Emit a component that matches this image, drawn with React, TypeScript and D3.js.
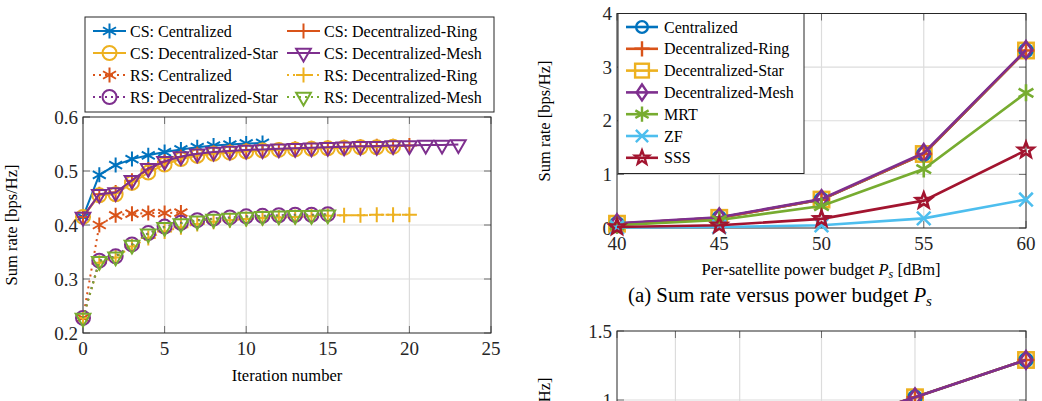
import * as d3 from "d3";
import { useEffect, useRef } from "react";

// ---- left chart: convergence vs iteration ----
const iterTicks = [0, 5, 10, 15, 20, 25];
const leftRateTicks = [0.2, 0.3, 0.4, 0.5, 0.6];

const csCentralized = [0.415, 0.493, 0.511, 0.522, 0.529, 0.535, 0.54, 0.544, 0.547, 0.549, 0.551, 0.552];
const csRing = [0.415, 0.457, 0.46, 0.482, 0.503, 0.517, 0.526, 0.531, 0.534, 0.536, 0.538, 0.539, 0.54, 0.541, 0.542, 0.543, 0.544, 0.545, 0.546, 0.546, 0.547];
const csStar = [0.415, 0.455, 0.457, 0.478, 0.497, 0.512, 0.522, 0.528, 0.532, 0.534, 0.536, 0.538, 0.539, 0.54, 0.541, 0.542, 0.543, 0.544, 0.544, 0.545];
const csMesh = [0.415, 0.457, 0.46, 0.483, 0.505, 0.518, 0.527, 0.532, 0.535, 0.537, 0.539, 0.54, 0.541, 0.542, 0.543, 0.544, 0.545, 0.546, 0.546, 0.547, 0.547, 0.548, 0.548, 0.549];
const rsCentralized = [0.228, 0.4, 0.418, 0.421, 0.422, 0.422, 0.423];
const rsRing = [0.228, 0.33, 0.34, 0.36, 0.376, 0.388, 0.396, 0.402, 0.406, 0.409, 0.411, 0.413, 0.414, 0.415, 0.416, 0.417, 0.418, 0.418, 0.419, 0.419, 0.419];
const rsStar = [0.228, 0.334, 0.342, 0.364, 0.385, 0.397, 0.404, 0.409, 0.412, 0.414, 0.416, 0.417, 0.418, 0.419, 0.419, 0.42];
const rsMesh = [0.228, 0.333, 0.341, 0.363, 0.384, 0.396, 0.403, 0.408, 0.411, 0.413, 0.415, 0.416, 0.417, 0.418, 0.418, 0.419];

// ---- right top chart: sum rate vs power budget ----
const powerBudget = [40, 45, 50, 55, 60];
const topRateTicks = [0, 1, 2, 3, 4];
const prCentralized = [0.08, 0.19, 0.53, 1.38, 3.31];
const prRing = [0.08, 0.19, 0.53, 1.38, 3.31];
const prStar = [0.08, 0.19, 0.53, 1.38, 3.31];
const prMesh = [0.09, 0.2, 0.54, 1.4, 3.32];
const prMRT = [0.05, 0.15, 0.41, 1.1, 2.52];
const prZF = [0.01, 0.02, 0.05, 0.18, 0.53];
const prSSS = [0.02, 0.05, 0.17, 0.51, 1.45];

// ---- right bottom chart (cut off by the page) ----
const bottomXTicks = [10, 20, 31, 45, 61, 80];
const bottomRateTicks = [0, 0.5, 1, 1.5];
const bottomX = [45, 61, 80];
const bCentralized = [0.8, 1.02, 1.29];
const bRing = [0.8, 1.02, 1.29];
const bStar = [0.8, 1.02, 1.29];
const bMesh = [0.8, 1.02, 1.29];

const C = {
  blue: "#0072BD",
  red: "#D95319",
  yellow: "#EDB120",
  purple: "#7E2F8E",
  green: "#77AC30",
  cyan: "#4DBEEE",
  dark: "#A2142F",
};
const FONT = "'Liberation Serif', 'Times New Roman', serif";
const AX = "#262626";

type Marker = "asterisk" | "plus" | "circle" | "triangle" | "square" | "diamond" | "cross" | "star";

function drawMarker(g: any, m: Marker, x: number, y: number, s: number, color: string, sw: number) {
  const st = (sel: any) => sel.attr("fill", "none").attr("stroke", color).attr("stroke-width", sw);
  if (m === "circle") {
    st(g.append("circle").attr("cx", x).attr("cy", y).attr("r", s));
  } else if (m === "plus") {
    st(g.append("path").attr("d", `M${x - s},${y}H${x + s}M${x},${y - s}V${y + s}`));
  } else if (m === "cross") {
    const k = s * 0.8;
    st(g.append("path").attr("d", `M${x - k},${y - k}L${x + k},${y + k}M${x - k},${y + k}L${x + k},${y - k}`));
  } else if (m === "asterisk") {
    let d = "";
    [90, 30, 150].forEach((a) => {
      const r = (a * Math.PI) / 180;
      const dx = s * Math.cos(r), dy = s * Math.sin(r);
      d += `M${x - dx},${y - dy}L${x + dx},${y + dy}`;
    });
    st(g.append("path").attr("d", d));
  } else if (m === "triangle") {
    st(g.append("path").attr("d", `M${x - s * 0.866},${y - s * 0.5}L${x + s * 0.866},${y - s * 0.5}L${x},${y + s}Z`)).attr("stroke-linejoin", "miter");
  } else if (m === "square") {
    const k = s * 0.85;
    st(g.append("rect").attr("x", x - k).attr("y", y - k).attr("width", 2 * k).attr("height", 2 * k));
  } else if (m === "diamond") {
    st(g.append("path").attr("d", `M${x},${y - s * 1.1}L${x + s * 0.75},${y}L${x},${y + s * 1.1}L${x - s * 0.75},${y}Z`));
  } else if (m === "star") {
    const pts: string[] = [];
    for (let i = 0; i < 10; i++) {
      const r = i % 2 === 0 ? s * 0.95 : s * 0.4;
      const a = -Math.PI / 2 + (i * Math.PI) / 5;
      pts.push(`${x + r * Math.cos(a)},${y + r * Math.sin(a)}`);
    }
    st(g.append("path").attr("d", `M${pts.join("L")}Z`)).attr("stroke-linejoin", "miter");
  }
}

function drawAxes(svg: any, x: any, y: any, xTicks: number[], yTicks: number[], xFmt: any, yFmt: any, xLabels: boolean) {
  const [x0, x1] = x.range();
  const [y0, y1] = y.range(); // y0 bottom, y1 top
  const g = svg.append("g");
  xTicks.filter((t) => t !== x.domain()[0] && t !== x.domain()[1]).forEach((t) => {
    g.append("line").attr("x1", x(t)).attr("x2", x(t)).attr("y1", y0).attr("y2", y1).attr("stroke", "#dcdcdc").attr("stroke-width", 1.2);
  });
  yTicks.filter((t) => t !== y.domain()[0] && t !== y.domain()[1]).forEach((t) => {
    g.append("line").attr("x1", x0).attr("x2", x1).attr("y1", y(t)).attr("y2", y(t)).attr("stroke", "#dcdcdc").attr("stroke-width", 1.2);
  });
  const tl = 7;
  xTicks.forEach((t) => {
    g.append("path").attr("d", `M${x(t)},${y0}V${y0 - tl}M${x(t)},${y1}V${y1 + tl}`).attr("stroke", "#6e6e6e").attr("stroke-width", 1);
  });
  yTicks.forEach((t) => {
    g.append("path").attr("d", `M${x0},${y(t)}H${x0 + tl}M${x1},${y(t)}H${x1 - tl}`).attr("stroke", "#6e6e6e").attr("stroke-width", 1);
  });
  g.append("rect").attr("x", x0).attr("y", y1).attr("width", x1 - x0).attr("height", y0 - y1)
    .attr("fill", "none").attr("stroke", AX).attr("stroke-width", 1);
  if (xLabels) {
    xTicks.forEach((t) => {
      g.append("text").attr("x", x(t)).attr("y", y0 + 22).attr("text-anchor", "middle")
        .attr("font-family", FONT).attr("font-size", 19).attr("fill", AX).text(xFmt(t));
    });
  }
  yTicks.forEach((t) => {
    g.append("text").attr("x", x0 - 5).attr("y", y(t) + 6.5).attr("text-anchor", "end")
      .attr("font-family", FONT).attr("font-size", 19).attr("fill", AX).text(yFmt(t));
  });
}

export default function App() {
  const svgRef = useRef<SVGSVGElement>(null);

  useEffect(() => {
    if (!svgRef.current) return;
    const svg = d3.select(svgRef.current);
    svg.selectAll("*").remove();

    // ================= left chart =================
    const xL = d3.scaleLinear().domain([0, 25]).range([83, 491]);
    const yL = d3.scaleLinear().domain([0.2, 0.6]).range([333, 117]);
    drawAxes(svg, xL, yL, iterTicks, leftRateTicks, d3.format("d"), d3.format(".1f"), true);

    const leftSeries = [
      { name: "CS: Centralized", data: csCentralized, color: C.blue, marker: "asterisk" as Marker, dotted: false },
      { name: "CS: Decentralized-Ring", data: csRing, color: C.red, marker: "plus" as Marker, dotted: false },
      { name: "CS: Decentralized-Star", data: csStar, color: C.yellow, marker: "circle" as Marker, dotted: false },
      { name: "CS: Decentralized-Mesh", data: csMesh, color: C.purple, marker: "triangle" as Marker, dotted: false },
      { name: "RS: Centralized", data: rsCentralized, color: C.red, marker: "asterisk" as Marker, dotted: true },
      { name: "RS: Decentralized-Ring", data: rsRing, color: C.yellow, marker: "plus" as Marker, dotted: true },
      { name: "RS: Decentralized-Star", data: rsStar, color: C.purple, marker: "circle" as Marker, dotted: true },
      { name: "RS: Decentralized-Mesh", data: rsMesh, color: C.green, marker: "triangle" as Marker, dotted: true },
    ];
    const mSize = (m: Marker) => (m === "circle" ? 7 : m === "triangle" ? 8.5 : 7.5);

    const lineL = d3.line<number>().x((_, i) => xL(i)).y((d) => yL(d));
    const gL = svg.append("g");
    leftSeries.forEach((s) => {
      gL.append("path").datum(s.data).attr("d", lineL as any).attr("fill", "none")
        .attr("stroke", s.color).attr("stroke-width", 2)
        .attr("stroke-dasharray", s.dotted ? "2 4" : null);
      s.data.forEach((v, i) => drawMarker(gL, s.marker, xL(i), yL(v), mSize(s.marker), s.color, 2));
    });

    // left legend
    const lg = svg.append("g");
    lg.append("rect").attr("x", 85).attr("y", 17).attr("width", 409).attr("height", 95)
      .attr("fill", "#fff").attr("stroke", AX).attr("stroke-width", 1);
    leftSeries.forEach((s, i) => {
      const row = Math.floor(i / 2), col = i % 2;
      const yy = 31 + row * 22;
      const xs = col === 0 ? 93 : 287;
      lg.append("line").attr("x1", xs).attr("x2", xs + 33).attr("y1", yy).attr("y2", yy)
        .attr("stroke", s.color).attr("stroke-width", 2).attr("stroke-dasharray", s.dotted ? "2 4" : null);
      drawMarker(lg, s.marker, xs + 16.5, yy, mSize(s.marker), s.color, 2);
      lg.append("text").attr("x", xs + 37).attr("y", yy + 5.5).attr("font-family", FONT).attr("font-size", 16)
        .attr("fill", "#000").text(s.name);
    });

    svg.append("text").attr("x", 287).attr("y", 381).attr("text-anchor", "middle")
      .attr("font-family", FONT).attr("font-size", 16.5).text("Iteration number");
    svg.append("text").attr("transform", "translate(17,225) rotate(-90)").attr("text-anchor", "middle")
      .attr("font-family", FONT).attr("font-size", 16.5).text("Sum rate [bps/Hz]");

    // ================= right top chart =================
    const xR = d3.scaleLinear().domain([40, 60]).range([617, 1026]);
    const yR = d3.scaleLinear().domain([0, 4]).range([228, 13.5]);
    drawAxes(svg, xR, yR, powerBudget, topRateTicks, d3.format("d"), d3.format("d"), true);

    const rightSeries = [
      { name: "Centralized", data: prCentralized, color: C.blue, marker: "circle" as Marker },
      { name: "Decentralized-Ring", data: prRing, color: C.red, marker: "plus" as Marker },
      { name: "Decentralized-Star", data: prStar, color: C.yellow, marker: "square" as Marker },
      { name: "Decentralized-Mesh", data: prMesh, color: C.purple, marker: "diamond" as Marker },
      { name: "MRT", data: prMRT, color: C.green, marker: "asterisk" as Marker },
      { name: "ZF", data: prZF, color: C.cyan, marker: "cross" as Marker },
      { name: "SSS", data: prSSS, color: C.dark, marker: "star" as Marker },
    ];
    const rSize = (m: Marker) => (m === "circle" ? 6.5 : m === "square" ? 9 : m === "diamond" ? 8 : 8.5);
    const drawOrder = [2, 0, 1, 3, 4, 5, 6];

    const lineR = d3.line<number>().x((_, i) => xR(powerBudget[i])).y((d) => yR(d));
    const gR = svg.append("g");
    drawOrder.forEach((k) => {
      const s = rightSeries[k];
      gR.append("path").datum(s.data).attr("d", lineR as any).attr("fill", "none")
        .attr("stroke", s.color).attr("stroke-width", 2.6);
      s.data.forEach((v, i) => drawMarker(gR, s.marker, xR(powerBudget[i]), yR(v), rSize(s.marker), s.color, 2.6));
    });

    const rg = svg.append("g");
    rg.append("rect").attr("x", 618).attr("y", 13.5).attr("width", 186).attr("height", 160)
      .attr("fill", "#fff").attr("stroke", AX).attr("stroke-width", 1);
    rightSeries.forEach((s, i) => {
      const yy = 27 + i * 21.8;
      rg.append("line").attr("x1", 626).attr("x2", 658).attr("y1", yy).attr("y2", yy)
        .attr("stroke", s.color).attr("stroke-width", 2.6);
      drawMarker(rg, s.marker, 642, yy, rSize(s.marker) * 0.9, s.color, 2.4);
      rg.append("text").attr("x", 664).attr("y", yy + 5.5).attr("font-family", FONT).attr("font-size", 16)
        .attr("fill", "#000").text(s.name);
    });

    const xt = svg.append("text").attr("x", 821).attr("y", 275).attr("text-anchor", "middle")
      .attr("font-family", FONT).attr("font-size", 16.5);
    xt.append("tspan").text("Per-satellite power budget ");
    xt.append("tspan").attr("font-style", "italic").text("P");
    xt.append("tspan").attr("font-style", "italic").attr("font-size", 12).attr("dy", 3).text("s");
    xt.append("tspan").attr("dy", -3).text(" [dBm]");

    const cap = svg.append("text").attr("x", 780).attr("y", 302).attr("text-anchor", "middle")
      .attr("font-family", FONT).attr("font-size", 20.8);
    cap.append("tspan").text("(a) Sum rate versus power budget ");
    cap.append("tspan").attr("font-style", "italic").text("P");
    cap.append("tspan").attr("font-style", "italic").attr("font-size", 15).attr("dy", 4).text("s");

    svg.append("text").attr("transform", "translate(550,121) rotate(-90)").attr("text-anchor", "middle")
      .attr("font-family", FONT).attr("font-size", 16.5).text("Sum rate [bps/Hz]");

    // ================= right bottom chart =================
    const xB = d3.scaleLinear().domain([10, 80]).range([617, 1026]);
    const yB = d3.scaleLinear().domain([0, 1.5]).range([538, 331]);
    drawAxes(svg, xB, yB, bottomXTicks, bottomRateTicks, d3.format("d"), (t: number) => (t % 1 === 0 ? d3.format("d")(t) : d3.format(".1f")(t)), false);

    const bottomSeries = [
      { data: bStar, color: C.yellow, marker: "square" as Marker },
      { data: bCentralized, color: C.blue, marker: "circle" as Marker },
      { data: bRing, color: C.red, marker: "plus" as Marker },
      { data: bMesh, color: C.purple, marker: "diamond" as Marker },
    ];
    const lineB = d3.line<number>().x((_, i) => xB(bottomX[i])).y((d) => yB(d));
    const gB = svg.append("g");
    bottomSeries.forEach((s) => {
      gB.append("path").datum(s.data).attr("d", lineB as any).attr("fill", "none")
        .attr("stroke", s.color).attr("stroke-width", 2.6);
      s.data.forEach((v, i) => drawMarker(gB, s.marker, xB(bottomX[i]), yB(v), rSize(s.marker), s.color, 2.6));
    });
    svg.append("text").attr("transform", "translate(550,438) rotate(-90)").attr("text-anchor", "middle")
      .attr("font-family", FONT).attr("font-size", 16.5).text("Sum rate [bps/Hz]");
  }, []);

  return (
    <svg
      ref={svgRef}
      width={1042}
      height={401}
      style={{ position: "absolute", left: 0, top: 0, background: "#fff" }}
    />
  );
}
